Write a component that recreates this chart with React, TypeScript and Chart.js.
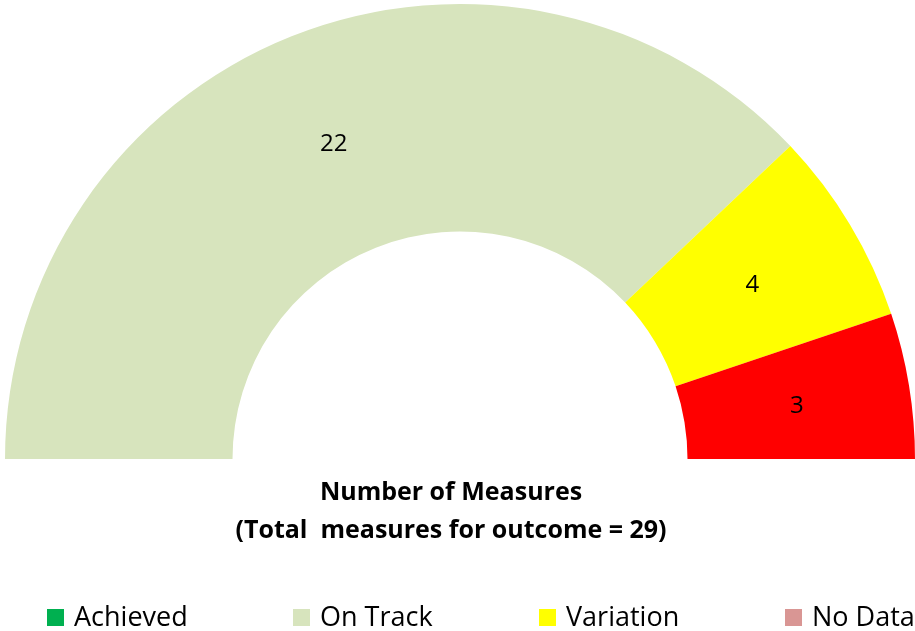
import React, { useEffect, useRef } from "react";
import { Chart, registerables } from "chart.js";

Chart.register(...registerables);

// ---- data ----
const categories = ["Achieved", "On Track", "Variation", "Not Achieved", "No Data"];
const values = [0, 22, 4, 3, 0];
const colors = ["#00B050", "#D7E4BD", "#FFFF00", "#FF0000", "#D99694"];
const legendCategories = ["Achieved", "On Track", "Variation", "No Data"];
const titleLines = ["Number of Measures", "(Total  measures for outcome = 29)"];

const FONT = "'Open Sans', 'Liberation Sans', sans-serif";

const labelsPlugin = {
  id: "arcLabels",
  afterDatasetsDraw(chart: any) {
    const ctx = chart.ctx;
    const meta = chart.getDatasetMeta(0);
    ctx.save();
    ctx.font = `24px ${FONT}`;
    ctx.fillStyle = "#000";
    ctx.textAlign = "center";
    ctx.textBaseline = "middle";
    meta.data.forEach((arc: any, i: number) => {
      const v = chart.data.datasets[0].data[i];
      if (!v) return;
      const p = arc.getCenterPoint();
      ctx.fillText(String(v), p.x, p.y + 2);
    });
    ctx.restore();
  },
};

const bottomPlugin = {
  id: "bottomText",
  afterDraw(chart: any) {
    const ctx = chart.ctx;
    const area = chart.chartArea;
    ctx.save();
    // title
    ctx.fillStyle = "#000";
    ctx.textAlign = "center";
    ctx.textBaseline = "alphabetic";
    ctx.font = `bold 25px ${FONT}`;
    const cx = 451;
    ctx.fillText(titleLines[0], cx, area.bottom + 41);
    ctx.fillText(titleLines[1], cx, area.bottom + 79);
    // legend
    ctx.font = `27px ${FONT}`;
    ctx.textAlign = "left";
    const baseline = area.bottom + 167;
    legendCategories.forEach((name, i) => {
      const idx = categories.indexOf(name);
      const x = 47 + i * 246;
      ctx.fillStyle = colors[idx];
      ctx.fillRect(x, baseline - 17, 17, 17);
      ctx.fillStyle = "#000";
      ctx.fillText(name, x + 27, baseline);
    });
    ctx.restore();
  },
};

export default function App() {
  const ref = useRef<HTMLCanvasElement | null>(null);
  useEffect(() => {
    if (!ref.current) return;
    const chart = new Chart(ref.current, {
      type: "doughnut",
      data: {
        labels: categories,
        datasets: [
          {
            data: values,
            backgroundColor: colors,
            borderWidth: 0,
          },
        ],
      },
      options: {
        responsive: true,
        maintainAspectRatio: false,
        animation: false,
        rotation: -90,
        circumference: 180,
        cutout: "50%",
        layout: { padding: { left: 5, right: 0, top: 4, bottom: 172 } },
        plugins: {
          legend: { display: false },
          tooltip: { enabled: false },
          title: { display: false },
        },
      },
      plugins: [labelsPlugin, bottomPlugin],
    } as any);
    return () => chart.destroy();
  }, []);
  return (
    <div style={{ position: "fixed", left: 0, top: 0, width: 915, height: 631, background: "#fff" }}>
      <canvas ref={ref} />
    </div>
  );
}
